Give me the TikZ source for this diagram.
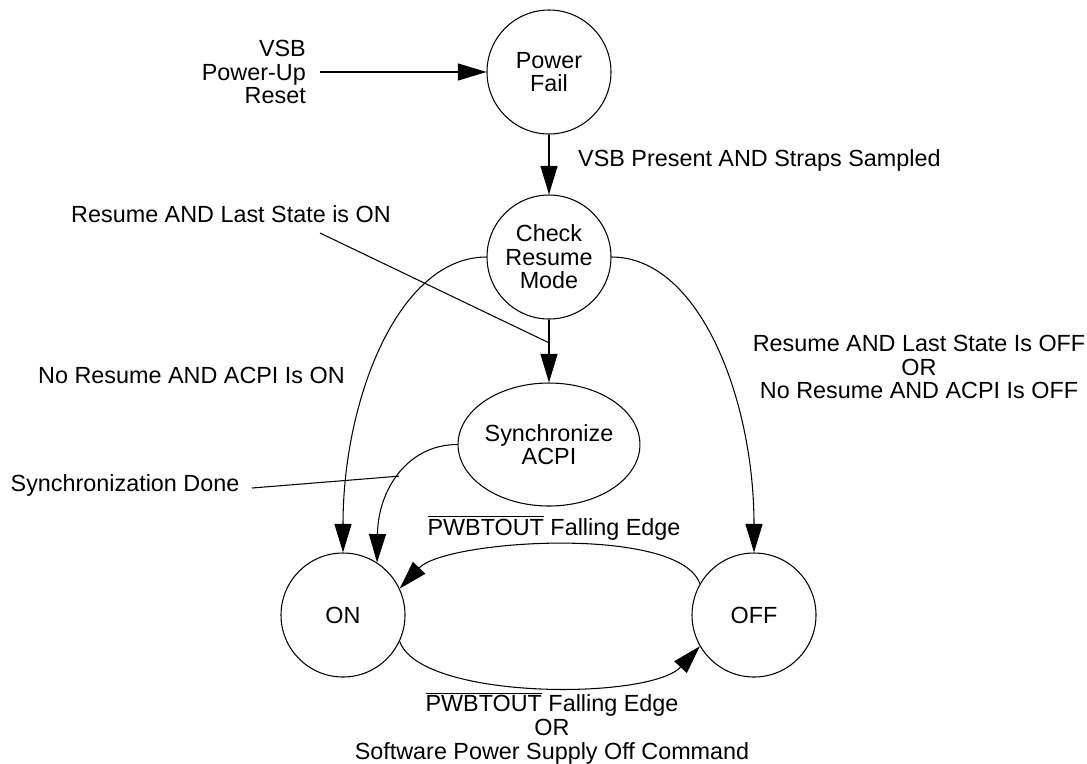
\documentclass[tikz,border=0pt]{standalone}
\usepackage{fontspec}
\setmainfont{Liberation Sans}
\usetikzlibrary{arrows.meta,shapes.geometric}
\newcommand{\ovl}[1]{$\overline{\mbox{#1}}$}

\begin{document}
\begin{tikzpicture}[
  every node/.style={font=\fontsize{13.3}{13.4}\selectfont},
  state/.style={draw,circle,minimum size=\statesize cm,inner sep=0pt,align=center,line width=0.6pt},
  syncstate/.style={draw,ellipse,minimum width=3.16cm,minimum height=2.46cm,inner sep=0pt,align=center,line width=0.6pt},
  flow/.style={line width=0.6pt,-{Triangle[length=0.57cm,width=0.34cm]}},
  leader/.style={line width=0.6pt}]
\useasboundingbox (0,0) rectangle (21.74,-15.26);
\pgfmathsetmacro{\statesize}{2.48}
\node[state] (pf) at (10.98,-1.44) {Power\\Fail};
\node[state] (crm) at (10.98,-5.14) {Check\\Resume\\Mode};
\node[syncstate] (sync) at (10.98,-8.89) {Synchronize\\ACPI};
\node[state] (on) at (6.86,-12.30) {ON};
\node[state] (off) at (15.08,-12.30) {OFF};
\node[anchor=east,align=right] (vsb) at (6.24,-1.44) {VSB\\Power-Up\\Reset};
\node[anchor=west] (vsbok) at (11.44,-3.2) {VSB Present AND Straps Sampled};
\node (laston) at (4.62,-4.28) {Resume AND Last State is ON};
\node (acpion) at (3.83,-7.5) {No Resume AND ACPI Is ON};
\node (syncdone) at (2.5,-9.7) {Synchronization Done};
\node[align=center] (offcond) at (18.38,-7.34) {Resume AND Last State Is OFF\\OR\\No Resume AND ACPI Is OFF};
\node (pwbup) at (11.08,-10.56) {\ovl{PWBTOUT} Falling Edge};
\node[align=center] (pwbdown) at (11.04,-14.56) {\ovl{PWBTOUT} Falling Edge\\OR\\Software Power Supply Off Command};
\coordinate (lastonfoot) at (6.4,-4.66);
\coordinate (syncdonefoot) at (5.04,-9.76);
\draw[flow] ([xshift=0.16cm]vsb.east) -- (pf);
\draw[flow] (pf) -- (crm);
\draw[flow] (crm) -- coordinate[pos=0.37] (j) (sync);
\draw[leader] (lastonfoot) -- (j);
\draw[flow] (crm.west) .. controls +(-1.76,0) and +(0,3.06) .. (on.north);
\draw[flow] (crm.east) .. controls +(1.76,0) and +(0,3.06) .. (off.north);
\draw[flow] (sync.west) .. controls +(-1.0,0) and +(0.02,1.46) .. coordinate[pos=0.5] (sdj) (on.57);
\draw[leader] (syncdonefoot) -- (sdj);
\draw[flow] (off.150) .. controls +(-0.41,1.18) and +(0.92,0.98) .. (on.25);
\draw[flow] (on.-25) .. controls +(0.42,-1.18) and +(-1.0,-1.08) .. (off.210);
\end{tikzpicture}
\end{document}
